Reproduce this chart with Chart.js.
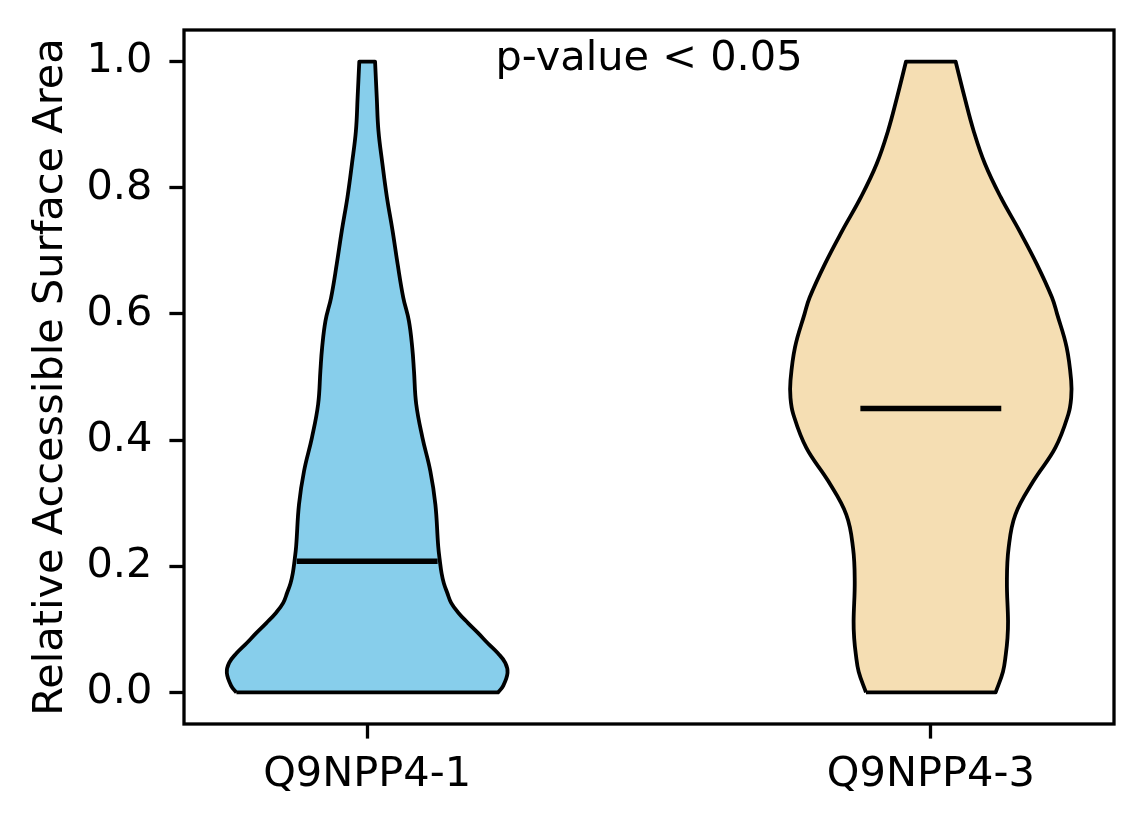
<!DOCTYPE html>
<html>
<head>
<meta charset="utf-8">
<title>Relative Accessible Surface Area</title>
<script src="https://cdn.jsdelivr.net/npm/chart.js@4.4.1/dist/chart.umd.min.js"></script>
<style>
  html, body { margin: 0; padding: 0; background: #fff; }
  #wrap { width: 1144px; height: 824px; }
</style>
</head>
<body>
<div id="wrap"><canvas id="violin" width="1144" height="824"></canvas></div>
<script>
// isoformen op de x-as
const categories = ['Q9NPP4-1', 'Q9NPP4-3'];
const positions = [1, 2];

// violin 1: y-niveau -> halve breedte (in x-as eenheden)
const levels1 = [0.000, 0.010, 0.031, 0.047, 0.062, 0.078, 0.094, 0.110, 0.126, 0.142,
                 0.158, 0.173, 0.189, 0.208, 0.232, 0.298, 0.351, 0.404, 0.457, 0.510,
                 0.546, 0.589, 0.626, 0.679, 0.732, 0.785, 0.838, 0.890, 0.943, 1.000];
const halfWidths1 = [0.232, 0.241, 0.249, 0.245, 0.232, 0.214, 0.197, 0.179, 0.162, 0.149,
                     0.142, 0.136, 0.132, 0.129, 0.126, 0.121, 0.112, 0.098, 0.087, 0.083,
                     0.080, 0.074, 0.064, 0.054, 0.045, 0.035, 0.027, 0.020, 0.017, 0.014];

// violin 2
const levels2 = [0.000, 0.033, 0.060, 0.086, 0.113, 0.176, 0.229, 0.282, 0.335, 0.388,
                 0.441, 0.467, 0.494, 0.547, 0.600, 0.626, 0.679, 0.732, 0.785, 0.838,
                 0.890, 0.943, 1.000];
const halfWidths2 = [0.115, 0.128, 0.133, 0.136, 0.137, 0.135, 0.138, 0.150, 0.182, 0.221,
                     0.244, 0.249, 0.249, 0.241, 0.224, 0.215, 0.188, 0.157, 0.124, 0.096,
                     0.076, 0.060, 0.044];

const medians = [0.208, 0.45];
const yTicks = [0, 0.2, 0.4, 0.6, 0.8, 1.0];

const pValueText = 'p-value < 0.05';
const pValuePos = { x: 1.5, y: 0.987 };

const fills = ['#87CEEB', '#F5DEB3'];
const FONT = { family: "'DejaVu Sans', sans-serif", size: 41.5 };

/**
 * Gesloten omtrek van een violin: links omhoog, rechts omlaag.
 * Hoekpunten dubbel zodat de spline daar scherp blijft.
 */
function violinOutline(pos, levels, widths) {
    const pts = [];
    const n = levels.length;
    for (let i = 0; i < n; i++) pts.push({ x: pos - widths[i], y: levels[i] });
    pts.push({ x: pos - widths[n - 1], y: levels[n - 1] });
    pts.push({ x: pos + widths[n - 1], y: levels[n - 1] });
    for (let i = n - 1; i >= 0; i--) pts.push({ x: pos + widths[i], y: levels[i] });
    pts.push({ x: pos + widths[0], y: levels[0] });
    pts.push({ x: pos - widths[0], y: levels[0] });
    return pts;
}

const outlines = [
    violinOutline(positions[0], levels1, halfWidths1),
    violinOutline(positions[1], levels2, halfWidths2)
];

const violinSets = positions.map((pos, k) => ({
    label: categories[k],
    data: outlines[k],
    showLine: true,
    fill: 'shape',
    backgroundColor: fills[k],
    borderColor: '#000',
    borderWidth: 3.8,
    borderJoinStyle: 'round',
    pointRadius: 0,
    tension: 0.4,
    order: 2
}));

// mediaanlijnen, kwart van de violinbreedte aan elke kant
const medianSets = positions.map((pos, k) => ({
    label: 'median ' + categories[k],
    data: [{ x: pos - 0.125, y: medians[k] }, { x: pos + 0.125, y: medians[k] }],
    showLine: true,
    fill: false,
    borderColor: '#000',
    borderWidth: 5.5,
    borderCapStyle: 'butt',
    pointRadius: 0,
    order: 1
}));

// kader rond het plotgebied + p-waarde tekst
const framePlugin = {
    id: 'frame',
    afterDatasetsDraw(chart) {
        const { ctx, chartArea: a, scales } = chart;
        ctx.save();
        ctx.strokeStyle = '#000';
        ctx.lineWidth = 3.3;
        ctx.strokeRect(a.left, a.top, a.right - a.left, a.bottom - a.top);

        ctx.fillStyle = '#000';
        ctx.font = `${FONT.size}px ${FONT.family}`;
        ctx.textAlign = 'center';
        ctx.textBaseline = 'alphabetic';
        ctx.fillText(pValueText, scales.x.getPixelForValue(pValuePos.x), scales.y.getPixelForValue(pValuePos.y));
        ctx.restore();
    }
};

const ctx = document.getElementById('violin').getContext('2d');
new Chart(ctx, {
    type: 'scatter',
    data: { datasets: [...medianSets, ...violinSets] },
    plugins: [framePlugin],
    options: {
        responsive: false,
        animation: false,
        devicePixelRatio: 1,
        layout: { padding: { top: 30, right: 30, left: 0, bottom: 0 } },
        plugins: { legend: { display: false }, tooltip: { enabled: false } },
        scales: {
            x: {
                type: 'linear',
                min: 0.675,
                max: 2.325,
                afterBuildTicks: scale => { scale.ticks = positions.map(v => ({ value: v })); },
                afterFit: scale => {
                    scale.height = 100;
                    scale.paddingLeft = 0;
                    scale.paddingRight = 0;
                },
                ticks: {
                    callback: v => categories[positions.indexOf(v)],
                    font: FONT,
                    color: '#000',
                    padding: 12,
                    maxRotation: 0,
                    autoSkip: false
                },
                grid: { drawOnChartArea: false, tickLength: 14.6, tickWidth: 3.3, tickColor: '#000' },
                border: { display: false }
            },
            y: {
                type: 'linear',
                min: -0.05,
                max: 1.05,
                afterBuildTicks: scale => { scale.ticks = yTicks.map(v => ({ value: v })); },
                afterFit: scale => {
                    scale.width = 184;
                    scale.paddingTop = 0;
                    scale.paddingBottom = 0;
                },
                ticks: {
                    callback: v => v.toFixed(1),
                    font: FONT,
                    color: '#000',
                    padding: 17
                },
                title: {
                    display: true,
                    text: 'Relative Accessible Surface Area',
                    font: FONT,
                    color: '#000',
                    padding: { top: 26, bottom: 0 }
                },
                grid: { drawOnChartArea: false, tickLength: 14.6, tickWidth: 3.3, tickColor: '#000' },
                border: { display: false }
            }
        }
    }
});
</script>
</body>
</html>
